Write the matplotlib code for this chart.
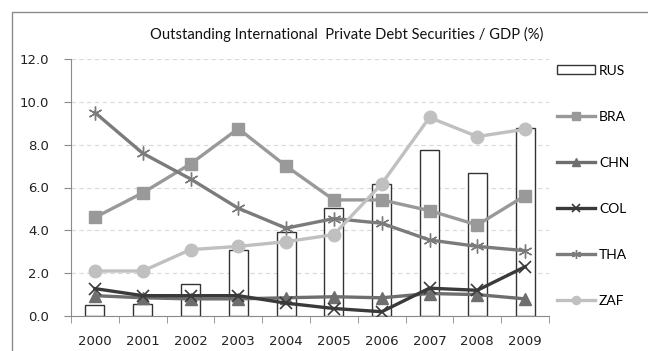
import matplotlib.pyplot as plt
from matplotlib.patches import Rectangle
import numpy as np

plt.rcParams['font.family'] = ['Lato', 'DejaVu Sans']

years = ['2000', '2001', '2002', '2003', '2004', '2005', '2006', '2007', '2008', '2009']
rus = [0.50, 0.55, 1.50, 3.10, 3.90, 5.05, 6.15, 7.75, 6.70, 8.80]
bra = [4.60, 5.75, 7.10, 8.75, 7.00, 5.42, 5.42, 4.92, 4.25, 5.62]
chn = [0.95, 0.85, 0.80, 0.80, 0.85, 0.90, 0.85, 1.05, 1.00, 0.80]
col = [1.28, 0.95, 0.95, 0.95, 0.60, 0.35, 0.20, 1.30, 1.20, 2.30]
tha = [9.50, 7.60, 6.40, 5.03, 4.10, 4.55, 4.33, 3.55, 3.25, 3.05]
zaf = [2.10, 2.10, 3.10, 3.25, 3.47, 3.80, 6.17, 9.27, 8.38, 8.72]

fig = plt.figure(figsize=(6.48, 3.51), dpi=100)
fig.patch.set_facecolor('white')
# chart border, runs off the right and bottom edge
fig.patches.append(Rectangle((12 / 648, -0.1), 1.0, 1 - 12 / 351 + 0.1,
                             transform=fig.transFigure, fill=False,
                             edgecolor='#8a8a8a', linewidth=1.0))

ax = fig.add_axes([71 / 648, 35 / 351, (549 - 71) / 648, (316 - 59) / 351])
x = np.arange(len(years))

ax.bar(x, rus, width=0.4, color='white', edgecolor='#333333', linewidth=1.0,
       label='RUS', zorder=2)
ax.plot(x, bra, color='#999999', lw=2.4, marker='s', ms=8, label='BRA', zorder=3)
ax.plot(x, chn, color='#6e6e6e', lw=2.4, marker='^', ms=8, label='CHN', zorder=3)
ax.plot(x, col, color='#3a3a3a', lw=2.4, marker='x', ms=9, mew=1.2, label='COL', zorder=3)
ax.plot(x, tha, color='#7b7b7b', lw=2.4, marker=(6, 2, 0), ms=10, mew=1.0, label='THA', zorder=3)
ax.plot(x, zaf, color='#c0c0c0', lw=2.4, marker='o', ms=9, label='ZAF', zorder=3)

ax.set_xlim(-0.5, 9.5)
ax.set_ylim(0, 12)
yt = np.arange(0, 12.1, 2)
ax.set_yticks(yt)
ax.set_yticklabels([f'{v:.1f}' for v in yt], fontsize=9.5, family='DejaVu Sans', color='#222222')
ax.set_xticks(x)
ax.set_xticklabels(years, fontsize=9.5, family='DejaVu Sans', color='#222222')
ax.set_xticks(np.arange(-0.5, 10, 1), minor=True)
ax.tick_params(axis='x', which='major', length=0, pad=14)
ax.tick_params(axis='x', which='minor', length=5, color='#8a8a8a')
ax.tick_params(axis='y', length=5, color='#8a8a8a', pad=11)
ax.grid(axis='y', color='#d9d9d9', ls=(0, (4, 3)), lw=0.8, zorder=0)
ax.set_axisbelow(True)
for s in ['top', 'right']:
    ax.spines[s].set_visible(False)
for s in ['left', 'bottom']:
    ax.spines[s].set_color('#8a8a8a')

fig.text(347 / 648, 1 - 34 / 351, 'Outstanding International  Private Debt Securities / GDP (%)',
         ha='center', va='center', fontsize=10.6, color='#111111')

handles, labels = ax.get_legend_handles_labels()
order = [labels.index(n) for n in ['RUS', 'BRA', 'CHN', 'COL', 'THA', 'ZAF']]
ax.legend([handles[i] for i in order], [labels[i] for i in order],
          loc='upper left', bbox_to_anchor=(1.0, 1.01), frameon=False,
          fontsize=10, labelspacing=2.45, handlelength=2.7, handleheight=0.6,
          handletextpad=0.3, borderaxespad=0.2, markerscale=0.65)

fig.savefig('out.png', dpi=100)
